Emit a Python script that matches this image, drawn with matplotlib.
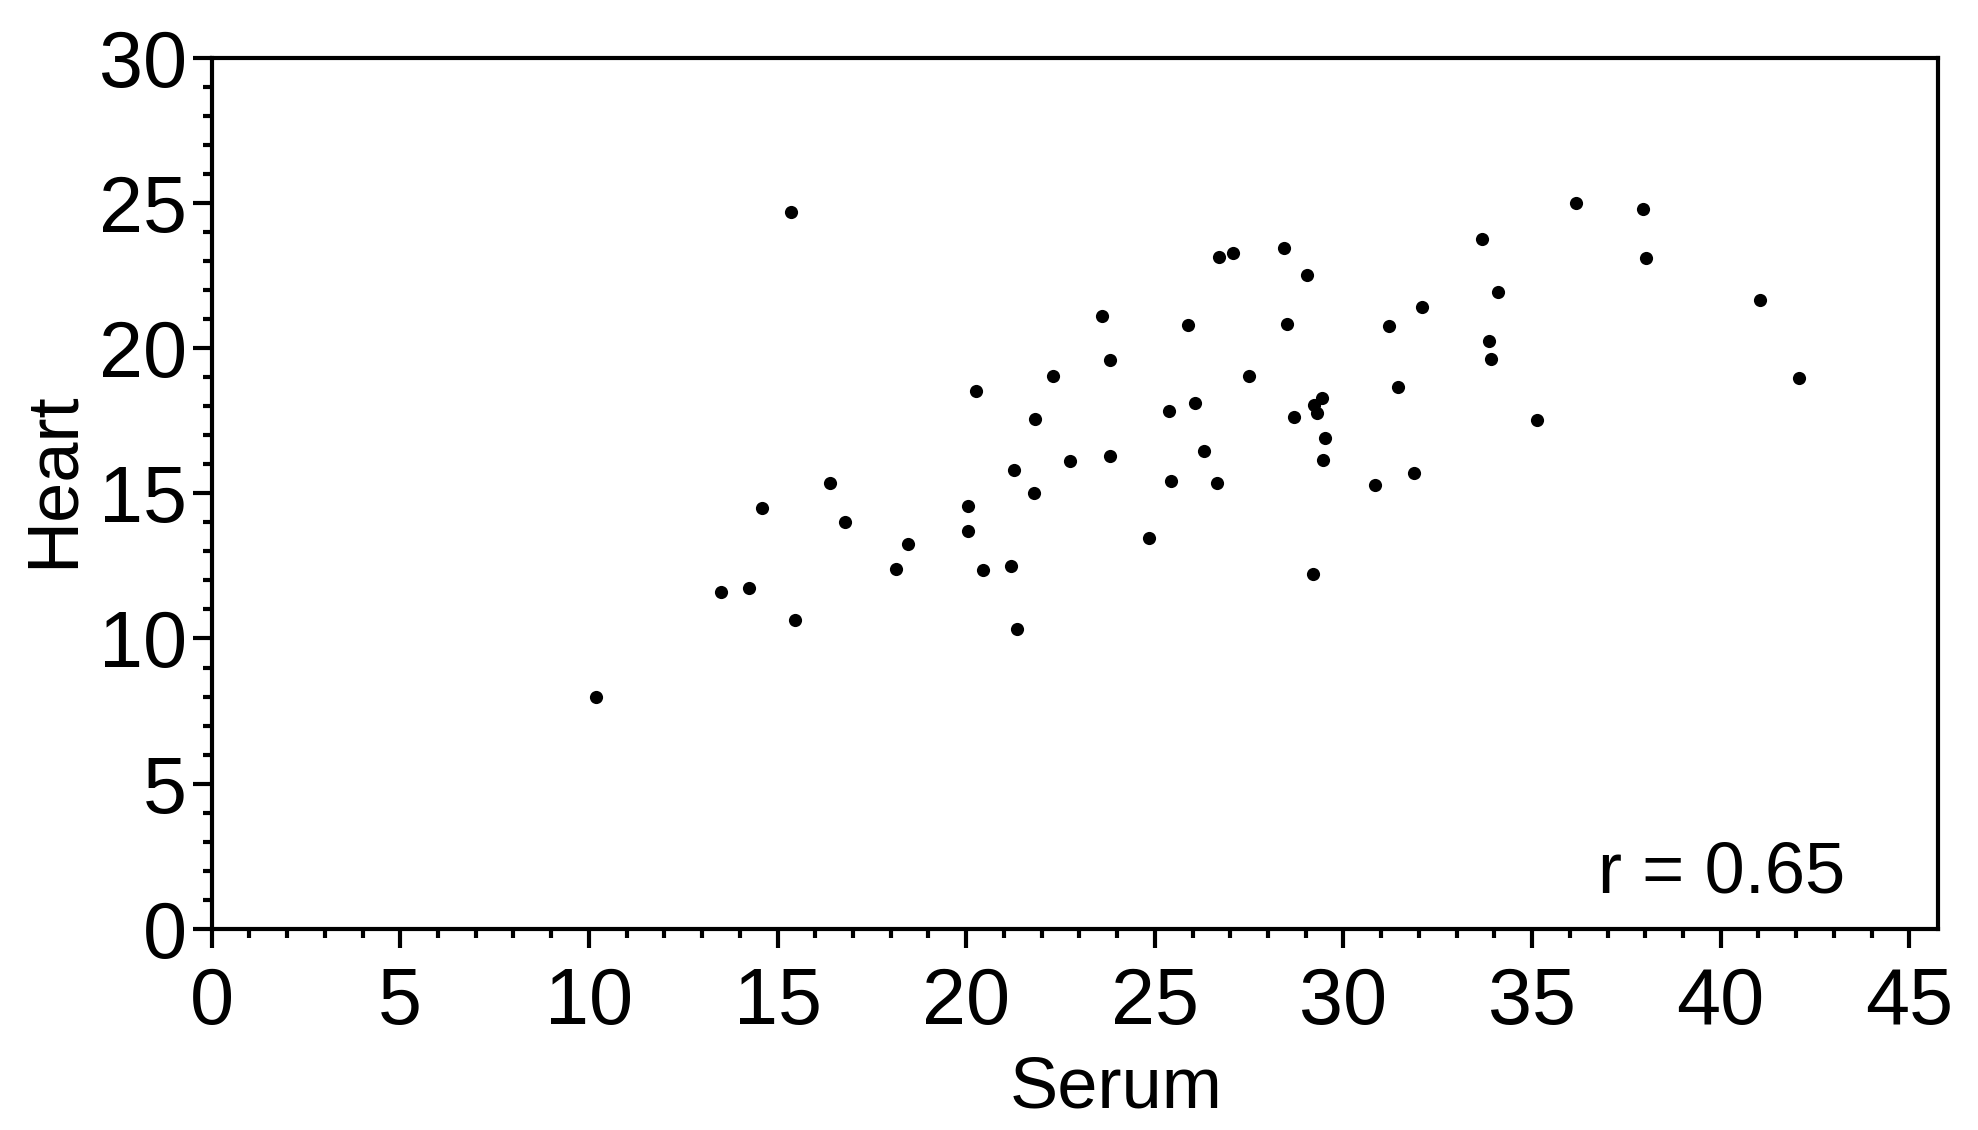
import matplotlib
matplotlib.use('Agg')
import matplotlib.pyplot as plt
from matplotlib.ticker import MultipleLocator

plt.rcParams['font.family'] = ['Liberation Sans', 'DejaVu Sans']

# Data
serum = [10.2, 13.5, 14.25, 14.6, 15.36, 15.46, 16.4, 16.8, 18.15, 18.45,
         20.05, 20.05, 20.25, 20.45, 21.2, 21.26, 21.36, 21.8, 21.83, 22.3,
         22.76, 23.6, 23.8, 23.8, 24.84, 25.38, 25.44, 25.88, 26.06, 26.3,
         26.65, 26.7, 27.06, 27.5, 28.43, 28.5, 28.7, 29.04, 29.2, 29.23,
         29.3, 29.43, 29.47, 29.5, 30.84, 31.2, 31.44, 31.88, 32.08, 33.66,
         33.86, 33.9, 34.1, 35.13, 36.17, 37.95, 38.02, 41.03, 42.07]
heart = [8.0, 11.6, 11.75, 14.5, 24.7, 10.65, 15.35, 14.0, 12.4, 13.27,
         14.57, 13.7, 18.53, 12.36, 12.5, 15.8, 10.32, 15.0, 17.57, 19.05,
         16.1, 21.1, 19.6, 16.3, 13.45, 17.84, 15.44, 20.8, 18.1, 16.44,
         15.36, 23.13, 23.26, 19.05, 23.44, 20.83, 17.62, 22.53, 12.23, 18.05,
         17.75, 18.27, 16.14, 16.92, 15.3, 20.75, 18.66, 15.7, 21.4, 23.75,
         20.23, 19.62, 21.92, 17.53, 24.99, 24.78, 23.1, 21.66, 18.96]
r_text = 'r = 0.65'

fig = plt.figure(figsize=(19.78, 11.30), dpi=100)
ax = fig.add_axes([0.107, 0.178, 0.8726, 0.7709])

ax.scatter(serum, heart, s=90, color='black', linewidths=0, zorder=3)

ax.set_xlim(0, 45.75)
ax.set_ylim(0, 30)
ax.xaxis.set_major_locator(MultipleLocator(5))
ax.xaxis.set_minor_locator(MultipleLocator(1))
ax.yaxis.set_major_locator(MultipleLocator(5))
ax.yaxis.set_minor_locator(MultipleLocator(1))

for s in ax.spines.values():
    s.set_linewidth(3)
ax.tick_params(which='major', direction='out', length=14, width=3,
               labelsize=57, pad=4)
ax.tick_params(axis='x', which='major', pad=13)
ax.tick_params(which='minor', direction='out', length=6.5, width=3)
ax.tick_params(top=False, right=False, which='both')

ax.set_xlabel('Serum', fontsize=52)
ax.xaxis.set_label_coords(0.524, -0.145)
ax.set_ylabel('Heart', fontsize=52)
ax.yaxis.set_label_coords(-0.072, 0.516)

ax.text(43.3, 1.9, r_text, ha='right', va='center', fontsize=52)

fig.savefig('out.png', dpi=100)
